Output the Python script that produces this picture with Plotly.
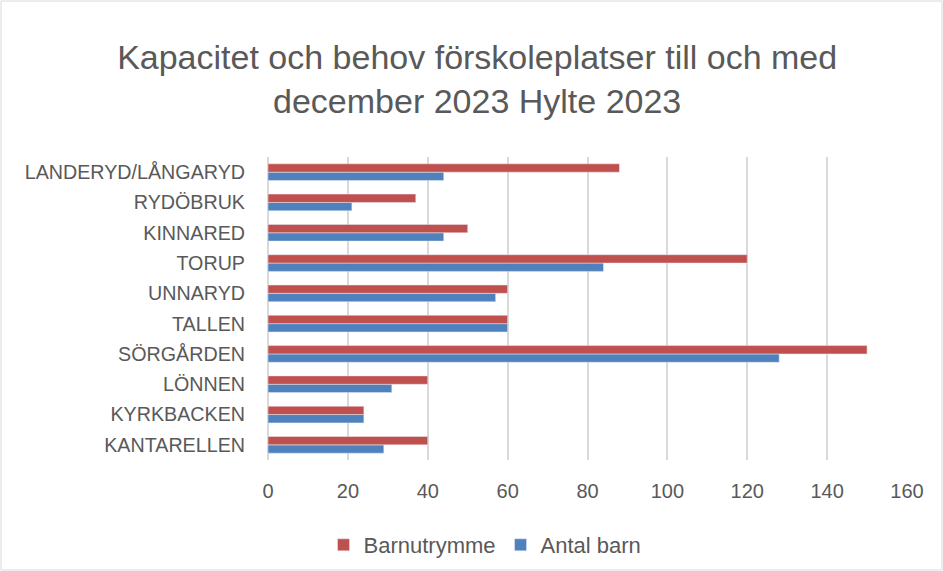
import plotly.graph_objects as go

categories = ["KANTARELLEN", "KYRKBACKEN", "LÖNNEN", "SÖRGÅRDEN", "TALLEN",
              "UNNARYD", "TORUP", "KINNARED", "RYDÖBRUK", "LANDERYD/LÅNGARYD"]
antal_barn = [29, 24, 31, 128, 60, 57, 84, 44, 21, 44]
barnutrymme = [40, 24, 40, 150, 60, 60, 120, 50, 37, 88]
x_ticks = [0, 20, 40, 60, 80, 100, 120, 140, 160]

W, H = 943, 571
L, R, T, B = 268, 36, 157, 111
pw, ph = W - L - R, H - T - B

fig = go.Figure()
fig.add_trace(go.Bar(y=categories, x=antal_barn, orientation="h", name="Antal barn",
                     marker_color="#4f81bd"))
fig.add_trace(go.Bar(y=categories, x=barnutrymme, orientation="h", name="Barnutrymme",
                     marker_color="#c0504d"))

fig.update_layout(
    width=W, height=H,
    margin=dict(l=L, r=R, t=T, b=B, autoexpand=False),
    paper_bgcolor="white", plot_bgcolor="white",
    font=dict(family="Liberation Sans, Arial, sans-serif", color="#595959", size=19),
    title=dict(text="Kapacitet och behov förskoleplatser till och med<br>december 2023 Hylte 2023",
               x=0.506, xanchor="center", y=0.88, yanchor="middle",
               font=dict(size=34, color="#595959")),
    barmode="group", bargap=0.45, bargroupgap=0,
    showlegend=True,
    legend=dict(orientation="h", xref="container", x=485 / W, xanchor="center",
                yref="container", y=1 - 545 / H, yanchor="middle",
                traceorder="reversed", font=dict(size=22), itemwidth=30),
    xaxis=dict(range=[0, 160], tickvals=x_ticks, showgrid=True, gridcolor="#d9d9d9",
               gridwidth=1.5, zeroline=True, zerolinecolor="#d9d9d9", zerolinewidth=1.5,
               ticks="", showline=False, ticklabelstandoff=17, tickfont=dict(size=20)),
    yaxis=dict(showgrid=False, ticks="", showline=False, ticklabelstandoff=22,
               tickfont=dict(size=19.7)),
    shapes=[dict(type="rect", xref="paper", yref="paper",
                 x0=-(L - 1) / pw, x1=1 + (R - 1) / pw,
                 y0=-(B - 1) / ph, y1=1 + (T - 1) / ph,
                 line=dict(color="#d9d9d9", width=1))],
)
fig.write_html("out.html", config={"displayModeBar": False},
               post_script="document.body.style.margin='0';document.body.style.padding='0';")
